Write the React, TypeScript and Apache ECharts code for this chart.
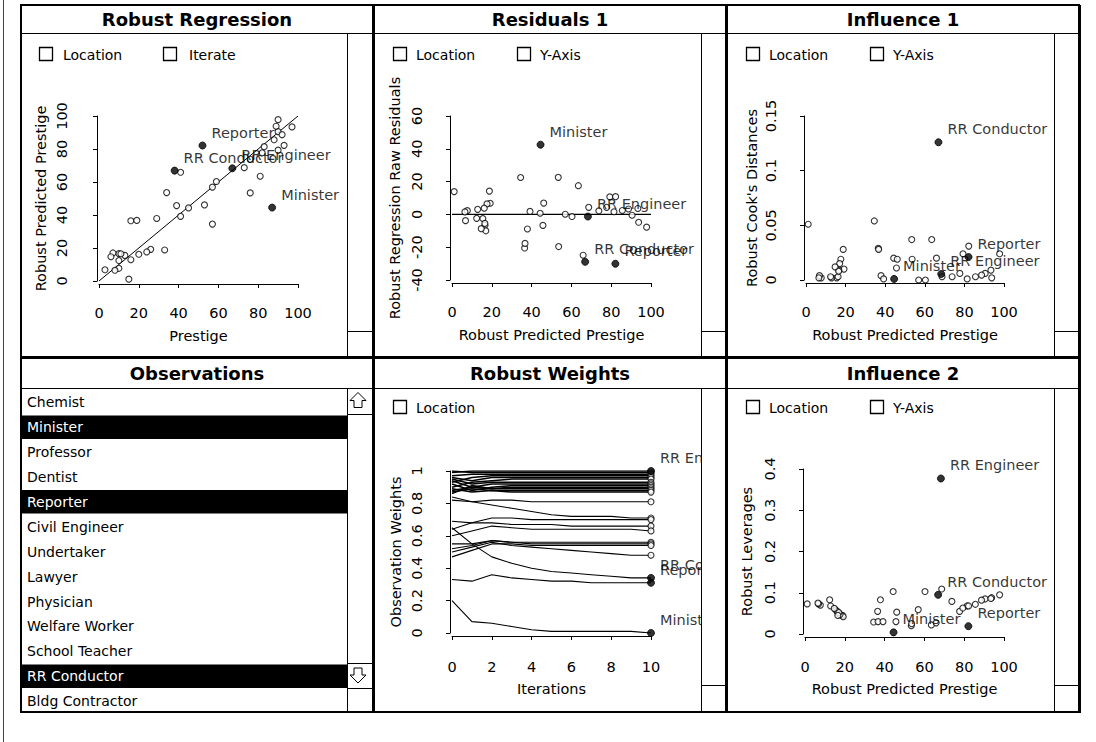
import React, { useEffect, useRef } from "react";
import * as echarts from "echarts";

const FONT = '"DejaVu Sans", sans-serif';

// ---------------- data ----------------
const occupations = ["Accountant", "Airline Pilot", "Architect", "Author", "Chemist", "Minister", "Professor", "Dentist", "Reporter", "Civil Engineer", "Undertaker", "Lawyer", "Physician", "Welfare Worker", "School Teacher", "RR Conductor", "Bldg Contractor", "Factory Owner", "Store Manager", "Banker", "Bookkeeper", "Mail Carrier", "Insurance Agent", "Store Clerk", "Carpenter", "Electrician", "RR Engineer", "Machinist", "Auto Repairman", "Plumber", "Gas Stn Attendant", "Coal Miner", "Streetcar Motorman", "Taxi Driver", "Truck Driver", "Machine Operator", "Barber", "Bartender", "Shoe Shiner", "Cook", "Soda Clerk", "Watchman", "Janitor", "Policeman", "Waiter"];

const prestige = [82, 83, 90, 76, 90, 87, 93, 90, 52, 88, 57, 89, 97, 59, 73, 38, 76, 81, 45, 92, 39, 34, 41, 16, 33, 53, 67, 57, 26, 29, 10, 15, 19, 10, 13, 24, 20, 7, 3, 16, 6, 11, 8, 41, 10];

const robustPredicted = [77.7, 81.4, 90.5, 73.8, 79.3, 44.5, 82.2, 97.8, 82.1, 85.6, 56.9, 93.8, 93.4, 60.3, 68.7, 66.9, 53.4, 63.5, 44.3, 88.7, 45.7, 53.6, 65.9, 36.5, 18.8, 46.1, 68.3, 34.5, 19.2, 37.9, 16.6, 1.1, 36.7, 7.7, 15.5, 17.6, 16.2, 17.0, 6.8, 12.9, 14.7, 16.5, 6.5, 39.2, 12.4];

const rawResiduals = [4.3, 1.6, -0.5, 2.2, 10.7, 42.5, 10.8, -7.8, -30.1, 2.4, 0.1, -4.8, 3.6, -1.3, 4.3, -28.9, 22.6, 17.5, 0.7, 3.3, -6.7, -19.6, -24.9, -20.5, 14.2, 6.9, -1.3, 22.5, 6.8, -8.9, -6.6, 13.9, -17.7, 2.3, -2.5, 6.4, 3.8, -10.0, -3.8, 3.1, -8.7, -5.5, 1.5, 1.8, -2.4];

const cooksDistances = [0.006, 0.001, 0.006, 0.003, 0.024, 0.001, 0.031, 0.024, 0.021, 0.003, 0.0, 0.002, 0.009, 0.0, 0.003, 0.126, 0.037, 0.037, 0.02, 0.0045, 0.011, 0.019, 0.02, 0.029, 0.028, 0.019, 0.0055, 0.054, 0.01, 0.004, 0.009, 0.051, 0.028, 0.002, 0.002, 0.019, 0.003, 0.015, 0.004, 0.002, 0.012, 0.008, 0.002, 0.001, 0.003];

const leverages = [0.055, 0.068, 0.085, 0.079, 0.063, 0.004, 0.068, 0.095, 0.019, 0.072, 0.059, 0.088, 0.086, 0.103, 0.109, 0.095, 0.02, 0.022, 0.103, 0.082, 0.03, 0.025, 0.027, 0.055, 0.045, 0.053, 0.377, 0.029, 0.042, 0.083, 0.05, 0.073, 0.03, 0.07, 0.058, 0.047, 0.055, 0.052, 0.073, 0.068, 0.062, 0.045, 0.075, 0.03, 0.083];

const selected = ["Minister", "Reporter", "RR Conductor", "RR Engineer"];

const listStart = 4;
const listCount = 13;

const iterations = [0, 1, 2, 3, 4, 5, 6, 7, 8, 9, 10];
const weightLabels = ["RR Engineer", "", "", "", "", "", "", "", "", "", "", "", "", "", "", "", "", "", "", "", "", "", "RR Conductor", "Reporter", "Minister"];
const weightPaths = [
  [0.99, 1.0, 1.0, 1.0, 1.0, 1.0, 1.0, 1.0, 1.0, 1.0, 1.0],
  [1.0, 0.99, 0.99, 0.99, 0.99, 0.99, 0.99, 0.99, 0.99, 0.99, 0.99],
  [0.97, 0.98, 0.98, 0.98, 0.98, 0.98, 0.98, 0.98, 0.98, 0.98, 0.98],
  [0.93, 0.96, 0.97, 0.97, 0.97, 0.97, 0.97, 0.97, 0.97, 0.97, 0.97],
  [0.96, 0.94, 0.96, 0.96, 0.96, 0.96, 0.96, 0.96, 0.96, 0.96, 0.96],
  [0.9, 0.93, 0.94, 0.95, 0.95, 0.95, 0.95, 0.95, 0.95, 0.95, 0.95],
  [0.95, 0.92, 0.93, 0.93, 0.93, 0.93, 0.93, 0.93, 0.93, 0.93, 0.93],
  [0.88, 0.9, 0.92, 0.92, 0.92, 0.92, 0.92, 0.92, 0.92, 0.92, 0.92],
  [0.92, 0.88, 0.9, 0.91, 0.91, 0.91, 0.91, 0.91, 0.91, 0.91, 0.91],
  [0.86, 0.91, 0.89, 0.9, 0.9, 0.9, 0.9, 0.9, 0.9, 0.9, 0.9],
  [0.94, 0.9, 0.89, 0.89, 0.89, 0.89, 0.89, 0.89, 0.89, 0.89, 0.89],
  [0.87, 0.89, 0.88, 0.88, 0.88, 0.88, 0.88, 0.88, 0.88, 0.88, 0.88],
  [0.89, 0.87, 0.88, 0.87, 0.87, 0.87, 0.87, 0.87, 0.87, 0.87, 0.87],
  [0.82, 0.81, 0.82, 0.82, 0.81, 0.81, 0.81, 0.81, 0.81, 0.81, 0.81],
  [0.84, 0.81, 0.79, 0.77, 0.75, 0.73, 0.72, 0.72, 0.72, 0.71, 0.71],
  [0.64, 0.68, 0.71, 0.71, 0.7, 0.7, 0.7, 0.7, 0.7, 0.7, 0.7],
  [0.69, 0.68, 0.68, 0.67, 0.67, 0.67, 0.66, 0.66, 0.66, 0.66, 0.66],
  [0.6, 0.63, 0.66, 0.65, 0.64, 0.64, 0.64, 0.64, 0.64, 0.64, 0.63],
  [0.55, 0.55, 0.57, 0.56, 0.56, 0.56, 0.56, 0.56, 0.56, 0.56, 0.56],
  [0.52, 0.54, 0.57, 0.56, 0.55, 0.55, 0.55, 0.55, 0.55, 0.55, 0.55],
  [0.47, 0.51, 0.55, 0.55, 0.54, 0.54, 0.54, 0.54, 0.54, 0.54, 0.54],
  [0.5, 0.53, 0.56, 0.54, 0.53, 0.52, 0.51, 0.5, 0.49, 0.48, 0.48],
  [0.65, 0.55, 0.47, 0.43, 0.4, 0.38, 0.37, 0.36, 0.35, 0.34, 0.34],
  [0.33, 0.32, 0.36, 0.34, 0.33, 0.32, 0.32, 0.31, 0.31, 0.31, 0.31],
  [0.2, 0.07, 0.06, 0.04, 0.02, 0.01, 0.01, 0.01, 0.01, 0.01, 0.0],
];

const fitLine = [[0, 0], [100, 100]];
const zeroLine = [[0, 0], [100, 0]];

const panelTitles = ["Robust Regression", "Residuals 1", "Influence 1", "Observations", "Robust Weights", "Influence 2"];

// ---------------- helpers ----------------
const txt = (text: string, x: number, y: number, font = `14px ${FONT}`, fill = "#000", align = "left", z = 60) => ({
  type: "text", x, y, z, silent: true,
  style: { text, fill, font, align, verticalAlign: "middle" },
});
const ln = (x1: number, y1: number, x2: number, y2: number, w = 1, z = 60, color = "#000") => ({
  type: "line", z, silent: true, shape: { x1, y1, x2, y2 }, style: { stroke: color, lineWidth: w },
});
const rc = (x: number, y: number, w: number, h: number, fill: string, stroke: string | null, lw: number, z = 55) => ({
  type: "rect", z, silent: true, shape: { x, y, width: w, height: h },
  style: { fill, stroke: stroke || "none", lineWidth: lw },
});
const checkbox = (bx: number, by: number, label: string, tx: number) => [
  rc(bx + 0.5, by + 0.5, 13, 13, "#fff", "#000", 1.3, 60),
  txt(label, tx, by + 7.5),
];

const pointLabel = {
  show: true, position: "right", distance: 5, offset: [0, -13], formatter: "{b}",
  color: "#000", fontFamily: FONT, fontSize: 14.5,
};

function xAx(grid: number, min: number, max: number, interval: number, name: string, margin = 21, nameGap = 44) {
  return {
    type: "value", gridIndex: grid, min, max, interval, name, nameLocation: "middle", nameGap, offset: 3,
    nameTextStyle: { color: "#000", fontFamily: FONT, fontSize: 14.5 },
    axisLine: { show: true, onZero: false, lineStyle: { color: "#000", width: 1 } },
    axisTick: { show: true, length: 4, lineStyle: { color: "#000", width: 1 } },
    axisLabel: { color: "#000", fontFamily: FONT, fontSize: 14.5, margin },
    splitLine: { show: false },
  };
}
function yAx(grid: number, min: number, max: number, interval: number, name: string, margin: number, nameGap: number) {
  return {
    type: "value", gridIndex: grid, min, max, interval, name, nameLocation: "middle", nameGap, offset: 2,
    nameTextStyle: { color: "#000", fontFamily: FONT, fontSize: 14.5 },
    axisLine: { show: true, onZero: false, lineStyle: { color: "#000", width: 1 } },
    axisTick: { show: true, length: 4, lineStyle: { color: "#000", width: 1 } },
    axisLabel: { color: "#000", fontFamily: FONT, fontSize: 14.5, margin, rotate: 90 },
    splitLine: { show: false },
  };
}

function scatterPair(axis: number, xs: number[], ys: number[]) {
  const normal: any[] = [];
  const hi: any[] = [];
  occupations.forEach((n, i) => {
    (selected.includes(n) ? hi : normal).push({ name: n, value: [xs[i], ys[i]] });
  });
  return [
    {
      type: "scatter", xAxisIndex: axis, yAxisIndex: axis, data: normal, symbolSize: 6, silent: true, z: 3,
      itemStyle: { color: "#fff", borderColor: "#000", borderWidth: 1.1 },
    },
    {
      type: "scatter", xAxisIndex: axis, yAxisIndex: axis, data: hi, symbolSize: 7, silent: true, z: 4,
      itemStyle: { color: "#000", borderColor: "#000", borderWidth: 1 }, label: pointLabel,
    },
  ];
}

function buildOption() {
  const grids = [
    { left: 99, top: 116, width: 199, height: 165 },
    { left: 452, top: 116, width: 199, height: 164 },
    { left: 806, top: 116, width: 198, height: 164 },
    { left: 452, top: 471, width: 199, height: 162 },
    { left: 805, top: 469, width: 199, height: 165 },
  ].map((g) => ({ ...g, containLabel: false, outerBoundsMode: "none" }));

  const xAxis = [
    xAx(0, 0, 100, 20, "Prestige"),
    xAx(1, 0, 100, 20, "Robust Predicted Prestige"),
    xAx(2, 0, 100, 20, "Robust Predicted Prestige"),
    xAx(3, 0, 10, 2, "Iterations", 23, 45),
    xAx(4, 0, 100, 20, "Robust Predicted Prestige", 22, 44),
  ];
  const yAxis = [
    yAx(0, 0, 100, 20, "Robust Predicted Prestige", 28, 49),
    yAx(1, -40, 60, 20, "Robust Regression Raw Residuals", 26, 48),
    yAx(2, 0, 0.15, 0.05, "Robust Cook's Distances", 26, 45),
    yAx(3, 0, 1, 0.2, "Observation Weights", 26, 47),
    yAx(4, 0, 0.4, 0.1, "Robust Leverages", 26, 49),
  ];

  const series: any[] = [];
  series.push({
    type: "line", xAxisIndex: 0, yAxisIndex: 0, data: fitLine, symbol: "none", silent: true, z: 2,
    lineStyle: { color: "#000", width: 1 },
  });
  series.push(...scatterPair(0, prestige, robustPredicted));
  series.push({
    type: "line", xAxisIndex: 1, yAxisIndex: 1, data: zeroLine, symbol: "none", silent: true, z: 2,
    lineStyle: { color: "#000", width: 1.3 },
  });
  series.push(...scatterPair(1, robustPredicted, rawResiduals));
  series.push(...scatterPair(2, robustPredicted, cooksDistances));
  series.push(...scatterPair(4, robustPredicted, leverages));

  weightPaths.forEach((p, i) => {
    series.push({
      type: "line", xAxisIndex: 3, yAxisIndex: 3, symbol: "none", silent: true, z: 2,
      data: iterations.map((it, k) => [it, p[k]]),
      lineStyle: { color: "#000", width: i < 13 ? 1.5 : 1.1 },
    });
  });
  const last = iterations.length - 1;
  const endNormal: any[] = [];
  const endHi: any[] = [];
  weightPaths.forEach((p, i) => {
    const item = { name: weightLabels[i], value: [iterations[last], p[last]] };
    (weightLabels[i] ? endHi : endNormal).push(item);
  });
  series.push({
    type: "scatter", xAxisIndex: 3, yAxisIndex: 3, data: endNormal, symbolSize: 6, silent: true, z: 3,
    itemStyle: { color: "#fff", borderColor: "#000", borderWidth: 1.1 },
  });
  series.push({
    type: "scatter", xAxisIndex: 3, yAxisIndex: 3, data: endHi, symbolSize: 7, silent: true, z: 4,
    itemStyle: { color: "#000", borderColor: "#000", borderWidth: 1 },
    label: { ...pointLabel, width: 62, overflow: "truncate", ellipsis: "" },
  });

  // ---------- window decoration ----------
  const g: any[] = [];
  g.push(ln(3.5, 0, 3.5, 742, 1, 60, "#444"));
  // clip cover for weights labels in strip
  g.push(rc(702, 389, 23, 296, "#fff", null, 0, 50));
  // outer frame
  g.push(rc(21, 5, 1058, 707, "none", "#000", 2, 60));
  g.push(ln(1080.5, 5, 1080.5, 713, 1, 60));
  g.push(ln(21, 712.5, 1080.5, 712.5, 1, 60));
  // dividers
  g.push(ln(373.5, 4, 373.5, 713, 3, 61));
  g.push(ln(726.5, 4, 726.5, 713, 3, 61));
  g.push(ln(20, 357.5, 1080, 357.5, 3, 61));
  // title separators
  g.push(ln(20, 33.5, 1080, 33.5, 1, 60));
  g.push(ln(20, 388.5, 1080, 388.5, 1, 60));
  // strips row 1
  [[347.5, 373], [701.5, 726], [1054.5, 1079]].forEach(([sx, ex]) => {
    g.push(ln(sx, 34, sx, 357, 1, 60));
    g.push(ln(sx, 331.5, ex, 331.5, 1, 60));
  });
  // strips row 2
  g.push(ln(347.5, 389, 347.5, 712, 1, 60));
  g.push(ln(347.5, 414.5, 373, 414.5, 1, 60));
  g.push(ln(347.5, 663.5, 373, 663.5, 1, 60));
  g.push(ln(347.5, 688.5, 373, 688.5, 1, 60));
  [[701.5, 726], [1054.5, 1079]].forEach(([sx, ex]) => {
    g.push(ln(sx, 389, sx, 712, 1, 60));
    g.push(ln(sx, 685.5, ex, 685.5, 1, 60));
  });
  // titles
  const titleFont = `bold 18px ${FONT}`;
  const cx = [197, 550, 903];
  panelTitles.forEach((t, i) => {
    g.push(txt(t, cx[i % 3], i < 3 ? 19.5 : 373, titleFont, "#000", "center"));
  });
  // checkboxes
  g.push(...checkbox(39, 47, "Location", 63));
  g.push(...checkbox(163, 47, "Iterate", 189));
  g.push(...checkbox(393, 47, "Location", 416));
  g.push(...checkbox(517, 47, "Y-Axis", 540));
  g.push(...checkbox(746, 47, "Location", 769));
  g.push(...checkbox(870, 47, "Y-Axis", 893));
  g.push(...checkbox(393, 400, "Location", 416));
  g.push(...checkbox(746, 400, "Location", 769));
  g.push(...checkbox(870, 400, "Y-Axis", 893));
  // observation list
  const rowH = 24.9;
  occupations.slice(listStart, listStart + listCount).forEach((n, i) => {
    const top = 389.5 + rowH * i;
    const hi = selected.includes(n);
    if (hi) g.push(rc(21, top + 1, 326.5, 23.5, "#000", null, 0, 56));
    g.push(txt(n, 27, top + 12.8, `14px ${FONT}`, hi ? "#fff" : "#000", "left", 57));
  });
  // scroll arrows
  const arrow = (ax: number, ay: number, dir: number) => ({
    type: "polygon", z: 62, silent: true,
    shape: {
      points: [
        [ax, ay - 8 * dir], [ax + 8, ay], [ax + 4, ay], [ax + 4, ay + 7 * dir],
        [ax - 4, ay + 7 * dir], [ax - 4, ay], [ax - 8, ay],
      ],
    },
    style: { fill: "#fff", stroke: "#000", lineWidth: 1 },
  });
  g.push(arrow(358, 400.5, 1));
  g.push(arrow(358, 675, -1));

  return {
    animation: false,
    backgroundColor: "#fff",
    grid: grids,
    xAxis,
    yAxis,
    series,
    graphic: { elements: g },
  };
}

export default function App() {
  const ref = useRef<HTMLDivElement>(null);
  useEffect(() => {
    if (!ref.current) return;
    const chart = echarts.init(ref.current, null, { renderer: "svg" });
    chart.setOption(buildOption() as any);
    return () => chart.dispose();
  }, []);
  return (
    <div
      ref={ref}
      style={{ position: "fixed", left: 0, top: 0, width: 1096, height: 742, background: "#fff" }}
    />
  );
}
